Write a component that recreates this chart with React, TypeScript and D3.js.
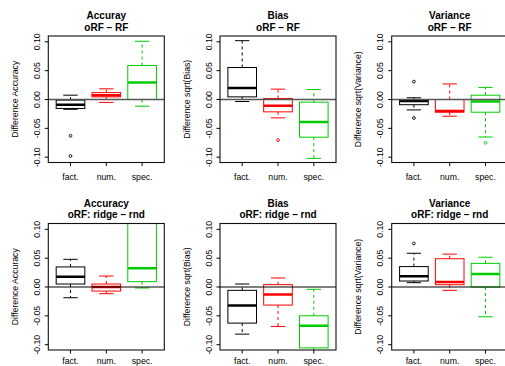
import React from 'react'
import * as d3 from 'd3'

interface BoxStat {
  lo: number
  q1: number
  med: number
  q3: number
  hi: number
  out: number[]
}

const groups = ['fact.', 'num.', 'spec.']
const groupColors = ['#000000', '#ff0000', '#00cc00']
const yTicks = [-0.1, -0.05, 0, 0.05, 0.1]

const titles = [
  ['Accuray', 'oRF – RF'],
  ['Bias', 'oRF – RF'],
  ['Variance', 'oRF – RF'],
  ['Accuracy', 'oRF: ridge – rnd'],
  ['Bias', 'oRF: ridge – rnd'],
  ['Variance', 'oRF: ridge – rnd'],
]

const yLabels = [
  'Difference Accuracy',
  'Difference sqrt(Bias)',
  'Difference sqrt(Variance)',
  'Difference Accuracy',
  'Difference sqrt(Bias)',
  'Difference sqrt(Variance)',
]

const accuracyRF: BoxStat[] = [
  { lo: -0.017, q1: -0.0155, med: -0.009, q3: -0.001, hi: 0.0075, out: [-0.063, -0.098] },
  { lo: -0.005, q1: 0.0046, med: 0.0075, q3: 0.012, hi: 0.0185, out: [] },
  { lo: -0.0116, q1: 0.0, med: 0.0295, q3: 0.059, hi: 0.101, out: [] },
]

const biasRF: BoxStat[] = [
  { lo: -0.0035, q1: 0.0046, med: 0.02, q3: 0.0555, hi: 0.102, out: [] },
  { lo: -0.0318, q1: -0.0214, med: -0.011, q3: 0.0017, hi: 0.018, out: [-0.0705] },
  { lo: -0.102, q1: -0.0653, med: -0.039, q3: -0.0046, hi: 0.0173, out: [] },
]

const varianceRF: BoxStat[] = [
  { lo: -0.018, q1: -0.009, med: -0.0025, q3: 0.0, hi: 0.003, out: [0.031, -0.032] },
  { lo: -0.029, q1: -0.022, med: -0.02, q3: 0.0, hi: 0.027, out: [] },
  { lo: -0.065, q1: -0.022, med: -0.0035, q3: 0.0075, hi: 0.021, out: [-0.075] },
]

const accuracyRidge: BoxStat[] = [
  { lo: -0.0186, q1: 0.0052, med: 0.018, q3: 0.0348, hi: 0.048, out: [] },
  { lo: -0.0116, q1: -0.007, med: 0.0, q3: 0.0052, hi: 0.019, out: [] },
  { lo: -0.0017, q1: 0.0093, med: 0.0325, q3: 0.13, hi: 0.2, out: [] },
]

const biasRidge: BoxStat[] = [
  { lo: -0.0817, q1: -0.0626, med: -0.032, q3: -0.0058, hi: 0.0052, out: [] },
  { lo: -0.0684, q1: -0.0313, med: -0.0128, q3: 0.0041, hi: 0.0157, out: [] },
  { lo: -0.13, q1: -0.1055, med: -0.0672, q3: -0.0499, hi: -0.004, out: [] },
]

const varianceRidge: BoxStat[] = [
  { lo: 0.0075, q1: 0.0104, med: 0.0186, q3: 0.0354, hi: 0.0585, out: [0.0754] },
  { lo: -0.0058, q1: 0.004, med: 0.0087, q3: 0.049, hi: 0.057, out: [] },
  { lo: -0.0516, q1: 0.0, med: 0.0226, q3: 0.041, hi: 0.0516, out: [] },
]

const panels = [accuracyRF, biasRF, varianceRF, accuracyRidge, biasRidge, varianceRidge]

const W = 505
const H = 366
const colLefts = [48.3, 220, 391.7]
const rowTops = [36, 223.5]
const plotW = 116
const plotH = 126.5
const font = 'Liberation Sans, Arial, Helvetica, sans-serif'

const fmt = (v: number) => (Math.abs(v) < 1e-9 ? 0 : v).toFixed(2)

const Panel: React.FC<{ idx: number; data: BoxStat[] }> = ({ idx, data }) => {
  const row = Math.floor(idx / 3)
  const col = idx % 3
  const left = colLefts[col]
  const top = rowTops[row]

  const x = d3.scaleLinear().domain([0.38, 3.62]).range([0, plotW])
  const y = d3.scaleLinear().domain([-0.1092, 0.1101]).range([plotH, 0])
  const clipId = `clip-${idx}`
  const boxHalf = x(1.4) - x(1)
  const capHalf = x(1.2) - x(1)
  // bottom row labels sit right at the page edge, keep them inside
  const xLabelY = row === 0 ? plotH + 17.5 : plotH + 14

  return (
    <g transform={`translate(${left},${top})`}>
      <defs>
        <clipPath id={clipId}>
          <rect x={0} y={0} width={plotW} height={plotH} />
        </clipPath>
      </defs>

      <g clipPath={`url(#${clipId})`}>
        {data.map((d, i) => {
          const cx = x(i + 1)
          const c = groupColors[i]
          return (
            <g key={i} stroke={c} fill="none">
              <line x1={cx} x2={cx} y1={y(d.q3)} y2={y(d.hi)} strokeDasharray="3,3" strokeWidth={1} />
              <line x1={cx} x2={cx} y1={y(d.q1)} y2={y(d.lo)} strokeDasharray="3,3" strokeWidth={1} />
              <line x1={cx - capHalf} x2={cx + capHalf} y1={y(d.hi)} y2={y(d.hi)} strokeWidth={1} />
              <line x1={cx - capHalf} x2={cx + capHalf} y1={y(d.lo)} y2={y(d.lo)} strokeWidth={1} />
              <rect
                x={cx - boxHalf}
                y={y(d.q3)}
                width={boxHalf * 2}
                height={y(d.q1) - y(d.q3)}
                fill="#ffffff"
                strokeWidth={1}
              />
              <line x1={cx - boxHalf} x2={cx + boxHalf} y1={y(d.med)} y2={y(d.med)} strokeWidth={2.5} />
              {d.out.map((o, j) => (
                <circle key={j} cx={cx} cy={y(o)} r={1.4} strokeWidth={0.9} />
              ))}
            </g>
          )
        })}
        <line
          x1={0}
          x2={plotW}
          y1={y(0)}
          y2={y(0)}
          stroke={row === 0 ? '#555555' : '#000000'}
          strokeWidth={row === 0 ? 1.6 : 1.2}
        />
      </g>

      <rect x={0} y={0} width={plotW} height={plotH} fill="none" stroke="#111111" strokeWidth={1.1} />

      {/* y axis */}
      {yTicks.map(t => (
        <g key={t}>
          <line x1={-3.5} x2={0} y1={y(t)} y2={y(t)} stroke="#000" strokeWidth={1} />
          <text
            transform={`translate(-8.5,${y(t)}) rotate(-90)`}
            textAnchor="middle"
            fontSize={8.7}
            fontFamily={font}
            fill="#000"
          >
            {fmt(t)}
          </text>
        </g>
      ))}
      <text
        transform={`translate(${-30.5},${plotH / 2}) rotate(-90)`}
        textAnchor="middle"
        fontSize={8.7}
        fontFamily={font}
        fill="#000"
      >
        {yLabels[idx]}
      </text>

      {/* x axis */}
      {groups.map((g, i) => (
        <g key={g}>
          <line x1={x(i + 1)} x2={x(i + 1)} y1={plotH} y2={plotH + 3.5} stroke="#000" strokeWidth={1} />
          <text x={x(i + 1)} y={xLabelY} textAnchor="middle" fontSize={8.7} fontFamily={font} fill="#000">
            {g}
          </text>
        </g>
      ))}

      {/* title */}
      <text x={plotW / 2} y={-17} textAnchor="middle" fontSize={10} fontWeight="bold" fontFamily={font} fill="#000">
        {titles[idx][0]}
      </text>
      <text x={plotW / 2} y={-5.5} textAnchor="middle" fontSize={10} fontWeight="bold" fontFamily={font} fill="#000">
        {titles[idx][1]}
      </text>
    </g>
  )
}

export default function App() {
  return (
    <svg
      width={W}
      height={H}
      style={{ position: 'absolute', left: 0, top: 0, background: '#ffffff' }}
    >
      {panels.map((p, i) => (
        <Panel key={i} idx={i} data={p} />
      ))}
    </svg>
  )
}
